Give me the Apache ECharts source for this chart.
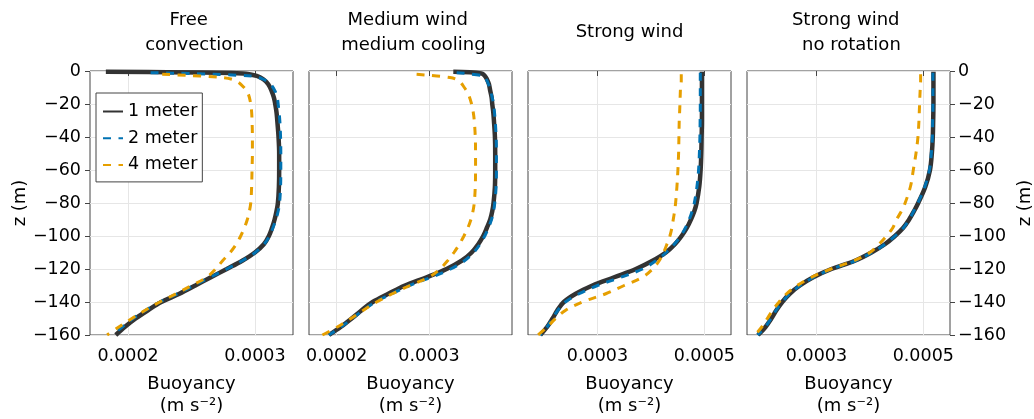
<!DOCTYPE html>
<html><head><meta charset="utf-8">
<script src="https://cdn.jsdelivr.net/npm/echarts@6/dist/echarts.min.js"></script>
<style>html,body{margin:0;padding:0;background:#fff}#c{width:1034px;height:419px}</style>
</head><body><div id="c"></div>
<script>
// Buoyancy values are in units of 1e-4 m s^-2
const SCALE = 1e-4;
const seriesNames = ['1 meter', '2 meter', '4 meter'];
const panelTitles = ['Free\n  convection', 'Medium wind\n  medium cooling', 'Strong wind', 'Strong wind\n  no rotation'];
const xMin = 0.00017;
const xMax = [0.00033, 0.00039, 0.00055, 0.00055];
const xTickValues = [[0.0002, 0.0003], [0.0002, 0.0003], [0.0003, 0.0005], [0.0003, 0.0005]];

// depth levels (m)
const zTop1 = [-0.5, -1.5, -3, -5, -8, -12, -16];
const zTop2 = [-1, -3, -5, -8, -12, -16];
const zTop4 = [-2, -4, -6, -10, -14];
const zBody = [-20, -25, -30, -40, -50, -60, -70, -80, -85, -90, -95, -100, -105, -110, -115, -120, -125, -130, -135, -140, -145, -150, -155, -160];

// Panel 1: Free convection
const p1_1m = [1.825, 2.909, 3.014, 3.066, 3.105, 3.131, 3.149,
  3.160, 3.170, 3.176, 3.186, 3.191, 3.191, 3.189, 3.181, 3.170, 3.155, 3.135, 3.110, 3.070, 3.000, 2.900, 2.778, 2.653, 2.530, 2.405, 2.262, 2.157, 2.060, 1.976, 1.903];
const p1_2m = [2.178, 2.975, 3.066, 3.123, 3.157, 3.176,
  3.183, 3.190, 3.196, 3.202, 3.204, 3.204, 3.202, 3.194, 3.183, 3.165, 3.142, 3.115, 3.072, 3.002, 2.900, 2.778, 2.648, 2.517, 2.392, 2.250, 2.138, 2.039, 1.956, 1.877];
const p1_4m = [2.269, 2.752, 2.852, 2.914, 2.948,
  2.967, 2.974, 2.977, 2.980, 2.980, 2.977, 2.974, 2.967, 2.956, 2.940, 2.917, 2.888, 2.852, 2.805, 2.745, 2.690, 2.620, 2.500, 2.380, 2.250, 2.135, 2.030, 1.930, 1.835];

// Panel 2: Medium wind medium cooling
const p2_1m = [3.264, 3.570, 3.606, 3.628, 3.650, 3.664, 3.679,
  3.686, 3.697, 3.704, 3.715, 3.718, 3.718, 3.715, 3.700, 3.686, 3.664, 3.628, 3.588, 3.534, 3.462, 3.354, 3.191, 2.975, 2.740, 2.560, 2.390, 2.271, 2.162, 2.047, 1.917];
const p2_2m = [3.300, 3.590, 3.620, 3.645, 3.668, 3.685,
  3.700, 3.710, 3.718, 3.728, 3.731, 3.731, 3.728, 3.713, 3.700, 3.678, 3.645, 3.605, 3.553, 3.485, 3.385, 3.235, 3.025, 2.790, 2.600, 2.420, 2.285, 2.170, 2.050, 1.915];
const p2_4m = [2.866, 3.227, 3.325, 3.383, 3.426,
  3.462, 3.480, 3.491, 3.502, 3.505, 3.505, 3.502, 3.491, 3.477, 3.455, 3.422, 3.379, 3.329, 3.271, 3.202, 3.119, 3.000, 2.794, 2.603, 2.433, 2.289, 2.155, 2.011, 1.845];

// Panel 3: Strong wind
const p3_1m = [4.956, 4.956, 4.956, 4.956, 4.956, 4.956, 4.956,
  4.956, 4.956, 4.956, 4.950, 4.944, 4.931, 4.906, 4.856, 4.813, 4.750, 4.675, 4.575, 4.450, 4.281, 4.031, 3.719, 3.313, 2.906, 2.594, 2.370, 2.250, 2.160, 2.060, 1.930];
const p3_2m = [4.925, 4.925, 4.925, 4.925, 4.925, 4.925,
  4.925, 4.925, 4.922, 4.918, 4.908, 4.893, 4.863, 4.813, 4.773, 4.718, 4.648, 4.558, 4.438, 4.285, 4.094, 3.844, 3.438, 3.000, 2.656, 2.400, 2.260, 2.160, 2.060, 1.925];
const p3_4m = [4.569, 4.569, 4.569, 4.556, 4.550,
  4.544, 4.538, 4.531, 4.525, 4.519, 4.506, 4.488, 4.463, 4.444, 4.419, 4.394, 4.356, 4.300, 4.238, 4.156, 4.031, 3.844, 3.500, 3.156, 2.719, 2.406, 2.219, 2.063, 1.888];

// Panel 4: Strong wind no rotation
const p4_1m = [5.190, 5.190, 5.190, 5.190, 5.190, 5.190, 5.190,
  5.190, 5.188, 5.185, 5.178, 5.160, 5.125, 5.040, 4.905, 4.825, 4.735, 4.625, 4.470, 4.280, 4.030, 3.720, 3.280, 2.940, 2.690, 2.500, 2.360, 2.250, 2.156, 2.050, 1.906];
const p4_2m = [5.180, 5.180, 5.180, 5.180, 5.180, 5.180,
  5.180, 5.180, 5.175, 5.170, 5.150, 5.115, 5.030, 4.900, 4.820, 4.735, 4.630, 4.470, 4.285, 4.040, 3.730, 3.290, 2.950, 2.695, 2.500, 2.360, 2.245, 2.150, 2.045, 1.900];
const p4_4m = [4.950, 4.950, 4.950, 4.944, 4.938,
  4.931, 4.925, 4.919, 4.900, 4.863, 4.813, 4.760, 4.660, 4.590, 4.500, 4.430, 4.310, 4.170, 4.000, 3.700, 3.270, 2.910, 2.640, 2.440, 2.300, 2.180, 2.080, 1.980, 1.850];

const panelData = [
  [p1_1m, p1_2m, p1_4m],
  [p2_1m, p2_2m, p2_4m],
  [p3_1m, p3_2m, p3_4m],
  [p4_1m, p4_2m, p4_4m]
];
const zLevels = [zTop1.concat(zBody), zTop2.concat(zBody), zTop4.concat(zBody)];

const FONT = 'DejaVu Sans';
const colors = ['#333333', '#0072B2', '#E69F00'];
const widths = [4.5, 3, 3];
const dashes = ['solid', [8, 7.5], [8, 7.5]];

const gridLeft = [90, 309, 528, 747];
const gridW = 203, gridTop = 71, gridH = 264;
const frameColor = '#444444';
const splitColor = '#e6e6e6';

const minus = v => (v < 0 ? '\u2212' + Math.abs(v) : String(v));

const option = {
  animation: false,
  backgroundColor: '#ffffff',
  title: panelTitles.map((t, i) => {
    const twoLine = t.indexOf('\n') >= 0;
    const c = gridLeft[i] + gridW / 2;
    return {
      text: t,
      left: twoLine ? c - 2.8 : c,
      top: twoLine ? 8 : 20,
      textAlign: 'center',
      padding: 0,
      textStyle: { fontFamily: FONT, fontSize: 18, fontWeight: 'normal', color: '#000', lineHeight: 25 }
    };
  }),
  legend: {
    orient: 'vertical', left: 96, top: 93,
    padding: [9.5, 5, 8, 6],
    itemWidth: 20, itemHeight: 18, itemGap: 8.7,
    backgroundColor: '#ffffff', borderColor: '#444444', borderWidth: 1, borderRadius: 0,
    itemStyle: { color: 'transparent', borderColor: 'transparent', borderWidth: 0, opacity: 0 },
    textStyle: { fontFamily: FONT, fontSize: 17.5, color: '#000' },
    data: seriesNames
  },
  grid: gridLeft.map(l => ({
    left: l, top: gridTop, width: gridW, height: gridH,
    show: true, borderColor: frameColor, borderWidth: 1, backgroundColor: 'transparent',
    containLabel: false, outerBoundsMode: 'none'
  })),
  xAxis: gridLeft.map((l, i) => ({
    type: 'value', gridIndex: i, min: xMin, max: xMax[i],
    name: 'Buoyancy\n(m s\u207B\u00B2)', nameLocation: 'middle', nameGap: 38,
    nameTextStyle: { fontFamily: FONT, fontSize: 18, color: '#000', lineHeight: 22 },
    axisLine: { show: false },
    axisTick: { show: true, inside: false, length: 5, customValues: xTickValues[i], lineStyle: { color: frameColor } },
    axisLabel: { show: true, margin: 12, customValues: xTickValues[i], fontFamily: FONT, fontSize: 17.5, color: '#000', formatter: v => v.toFixed(4) },
    splitLine: { show: true, lineStyle: { color: splitColor, width: 1 } }
  })),
  yAxis: gridLeft.map((l, i) => ({
    type: 'value', gridIndex: i, min: -160, max: 0, interval: 20,
    position: i === 3 ? 'right' : 'left',
    name: (i === 0 || i === 3) ? 'z (m)' : '',
    nameLocation: 'middle', nameRotate: 90, nameGap: i === 0 ? 58 : 66,
    nameTextStyle: { fontFamily: FONT, fontSize: 18, color: '#000' },
    axisLine: { show: false },
    axisTick: { show: i === 0 || i === 3, inside: false, length: 5, lineStyle: { color: frameColor } },
    axisLabel: { show: i === 0 || i === 3, margin: i === 0 ? 9 : 8, fontFamily: FONT, fontSize: 17.5, color: '#000', formatter: minus },
    splitLine: { show: true, lineStyle: { color: splitColor, width: 1 } }
  })),
  series: []
};

panelData.forEach((sets, p) => {
  sets.forEach((vals, k) => {
    const zs = zLevels[k];
    option.series.push({
      type: 'line', name: seriesNames[k], xAxisIndex: p, yAxisIndex: p,
      data: vals.map((v, j) => [v * SCALE, zs[j]]),
      showSymbol: false, symbol: 'none', smooth: 0.35,
      lineStyle: { color: colors[k], width: widths[k], type: dashes[k], cap: 'butt' },
      itemStyle: { color: colors[k] },
      z: 2 + k
    });
  });
});

const chart = echarts.init(document.getElementById('c'), null, { renderer: 'canvas' });
chart.setOption(option);
</script>
</body></html>
